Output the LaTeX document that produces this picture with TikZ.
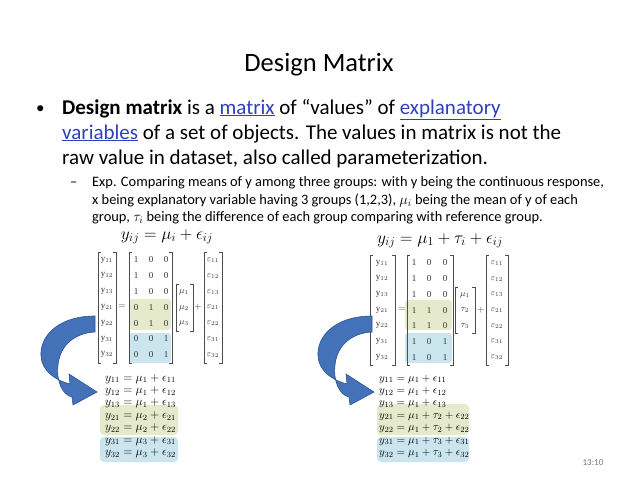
\documentclass[tikz,border=0pt]{standalone}
\usepackage{fontspec}
\setmainfont{Carlito}
\newfontfamily\serifent{Liberation Serif}
\definecolor{lnk}{HTML}{2F3FBF}
\definecolor{gfill}{HTML}{E4EACB}
\definecolor{bfill}{HTML}{CBE5EE}
\definecolor{arr}{HTML}{4472B8}
\definecolor{arrd}{HTML}{2E5592}
\newcommand\lk[1]{\textcolor{lnk}{\underline{#1}}}
\newcommand\brk[4]{\draw[brk] (#1+3,#3)--(#1,#3)--(#1,#4)--(#1+3,#4);\draw[brk] (#2-3,#3)--(#2,#3)--(#2,#4)--(#2-3,#4);}
\begin{document}
\begin{tikzpicture}[x=1pt,y=-1pt,
  line/.style={anchor=base west,inner sep=0pt},
  ent/.style={inner sep=0pt,font=\fontsize{9}{9}\selectfont\serifent,text=black!80},
  brk/.style={draw=black!70,line width=0.5pt},
  eq/.style={anchor=base west,inner sep=0pt,font=\fontsize{12}{12}\selectfont},
  arrowband/.style={fill=arr,draw=arrd,line width=0.6pt}]
\useasboundingbox (0,0) rectangle (638,479);
\node[inner sep=0pt,anchor=base,font=\fontsize{26.5}{26}\selectfont] (title) at (319,71) {Design Matrix};
\begin{scope}[font=\fontsize{21}{21}\selectfont]
\node[line,font=\fontsize{17}{17}\selectfont] (b) at (36,113) {•};
\node[line] (l1) at (62,114) {\textbf{Design matrix} is a \lk{matrix} of “values” of \lk{explanatory}};
\node[line] (l2) at (62,139) {\lk{variables} of a set of objects. The values in matrix is not the};
\node[line] (l3) at (62,164) {raw value in dataset, also called parameterization.};
\end{scope}
\begin{scope}[font=\fontsize{14.4}{14}\selectfont]
\node[line] (d) at (70,186) {–};
\node[line] (s1) at (92,186) {Exp. Comparing means of y among three groups: with y being the continuous response,};
\node[line] (s2) at (92,204) {x being explanatory variable having 3 groups (1,2,3), $\mu_i$ being the mean of y of each};
\node[line] (s3) at (92,221) {group, $\tau_i$ being the difference of each group comparing with reference group.};
\end{scope}
\node[inner sep=0pt,anchor=base,font=\fontsize{17}{17}\selectfont] (eqL) at (167,239) {$y_{ij}=\mu_i+\epsilon_{ij}$};
\node[inner sep=0pt,anchor=base,font=\fontsize{17}{17}\selectfont] (eqR) at (440,243) {$y_{ij}=\mu_1+\tau_i+\epsilon_{ij}$};
% highlights
\fill[gfill,rounded corners=3pt] (129,299) rectangle (171,330);
\fill[bfill,rounded corners=3pt] (129,333) rectangle (171,363);
\fill[gfill,rounded corners=3pt] (405,300) rectangle (452,330);
\fill[bfill,rounded corners=3pt] (405,333) rectangle (452,363);
\fill[gfill,rounded corners=4pt] (100,405) rectangle (178,435);
\fill[bfill,rounded corners=4pt] (100,437) rectangle (178,462);
\fill[gfill,rounded corners=4pt] (377,404) rectangle (469,435);
\fill[bfill,rounded corners=4pt] (377,437) rectangle (469,462);
% left matrices
\foreach \r/\a/\b/\c/\yy/\ee [count=\k from 0] in {11/1/0/0/11/11,12/1/0/0/12/12,13/1/0/0/13/13,21/0/1/0/21/21,22/0/1/0/22/22,31/0/0/1/31/31,32/0/0/1/32/32}{
  \pgfmathsetmacro\yr{260+\k*15.8}
  \node[ent] (ly\k) at (107,\yr) {y$_{\r}$};
  \node[ent] (la\k) at (136,\yr) {\a};
  \node[ent] (lb\k) at (151,\yr) {\b};
  \node[ent] (lc\k) at (166,\yr) {\c};
  \node[ent] (le\k) at (213,\yr) {$\varepsilon_{\ee}$};
  \pgfmathsetmacro\yq{263+\k*15.7}
  \node[ent] (ry\k) at (382,\yq) {y$_{\r}$};
  \node[ent] (re\k) at (497,\yq) {$\varepsilon_{\ee}$};
}
\foreach \a/\b/\c [count=\k from 0] in {1/0/0,1/0/0,1/0/0,1/1/0,1/1/0,1/0/1,1/0/1}{
  \pgfmathsetmacro\yq{263+\k*15.7}
  \node[ent] (ra\k) at (414,\yq) {\a};
  \node[ent] (rb\k) at (429,\yq) {\b};
  \node[ent] (rc\k) at (445,\yq) {\c};
}
\node[ent] (lm1) at (184,292) {$\mu_1$};
\node[ent] (lm2) at (184,308) {$\mu_2$};
\node[ent] (lm3) at (184,323) {$\mu_3$};
\node[ent] (leq) at (122,307) {$=$};
\node[ent] (lpl) at (198,307) {$+$};
\brk{98}{116}{252}{363}
\brk{129}{172}{252}{363}
\brk{176}{193}{284}{331}
\brk{204}{222}{252}{363}
\node[ent] (rm1) at (465,295) {$\mu_1$};
\node[ent] (rm2) at (465,310) {$\tau_2$};
\node[ent] (rm3) at (465,326) {$\tau_3$};
\node[ent] (req) at (402,310) {$=$};
\node[ent] (rpl) at (481,310) {$+$};
\brk{370}{395}{255}{365}
\brk{407}{453}{255}{365}
\brk{455}{475}{287}{333}
\brk{486}{508}{255}{365}
% lower equations
\foreach \t [count=\k from 0] in {{y_{11}=\mu_1+\epsilon_{11}},{y_{12}=\mu_1+\epsilon_{12}},{y_{13}=\mu_1+\epsilon_{13}},{y_{21}=\mu_2+\epsilon_{21}},{y_{22}=\mu_2+\epsilon_{22}},{y_{31}=\mu_3+\epsilon_{31}},{y_{32}=\mu_3+\epsilon_{32}}}{
  \pgfmathsetmacro\yr{381+\k*12.4}
  \node[eq] (le\k q) at (105,\yr) {$\t$};
}
\foreach \t [count=\k from 0] in {{y_{11}=\mu_1+\epsilon_{11}},{y_{12}=\mu_1+\epsilon_{12}},{y_{13}=\mu_1+\epsilon_{13}},{y_{21}=\mu_1+\tau_2+\epsilon_{22}},{y_{22}=\mu_1+\tau_2+\epsilon_{22}},{y_{31}=\mu_1+\tau_3+\epsilon_{31}},{y_{32}=\mu_1+\tau_3+\epsilon_{32}}}{
  \pgfmathsetmacro\yr{381+\k*12.4}
  \node[eq,font=\fontsize{11}{11}\selectfont] (re\k q) at (379,\yr) {$\t$};
}
% curved arrows
\foreach \dx in {0,277}{
\begin{scope}[xshift=\dx pt]
\path[arrowband] (95,316) .. controls (55,316) and (36,340) .. (42,362)
  .. controls (46,374) and (58,381) .. (70,384) -- (69,374) -- (97,392) -- (73,405) -- (72,397)
  .. controls (62,395) and (56,380) .. (58,365)
  .. controls (60,345) and (75,333) .. (95,332) -- cycle;
\end{scope}}
\node[inner sep=0pt,anchor=base,font=\fontsize{9}{9}\selectfont,text=black!55] (pg) at (593,465) {13:10};
\end{tikzpicture}
\end{document}
